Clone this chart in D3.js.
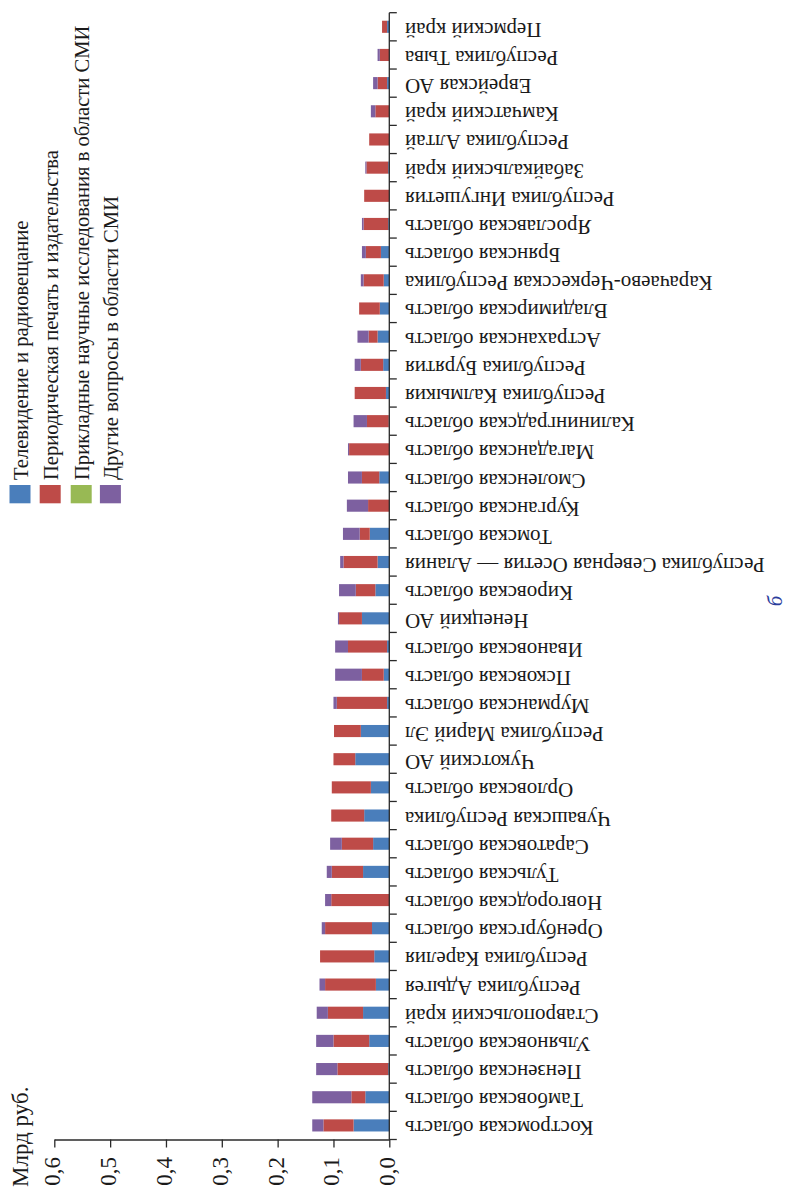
<!DOCTYPE html>
<html>
<head>
<meta charset="utf-8">
<script src="https://cdn.jsdelivr.net/npm/d3@7"></script>
<style>
  html, body { margin: 0; padding: 0; background: #fff; }
  svg { display: block; }
  text { font-family: "Liberation Serif", "Times New Roman", serif; fill: #1a1a1a; }
</style>
</head>
<body>
<svg id="chart" width="807" height="1192"></svg>
<script>
// ---- data (original order: first category sits at the bottom) ----
const categories = [
  "Костромская область", "Тамбовская область", "Пензенская область", "Ульяновская область",
  "Ставропольский край", "Республика Адыгея", "Республика Карелия", "Оренбургская область",
  "Новгородская область", "Тульская область", "Саратовская область", "Чувашская Республика",
  "Орловская область", "Чукотский АО", "Республика Марий Эл", "Мурманская область",
  "Псковская область", "Ивановская область", "Ненецкий АО", "Кировская область",
  "Республика Северная Осетия — Алания", "Томская область", "Курганская область", "Смоленская область",
  "Магаданская область", "Калининградская область", "Республика Калмыкия", "Республика Бурятия",
  "Астраханская область", "Владимирская область", "Карачаево-Черкесская Республика", "Брянская область",
  "Ярославская область", "Республика Ингушетия", "Забайкальский край", "Республика Алтай",
  "Камчатский край", "Еврейская АО", "Республика Тыва", "Пермский край"
];
const tvRadio = [
  0.064, 0.043, 0.002, 0.036, 0.047, 0.024, 0.027, 0.031, 0.000, 0.047,
  0.029, 0.045, 0.033, 0.061, 0.051, 0.004, 0.010, 0.004, 0.049, 0.025,
  0.021, 0.035, 0.000, 0.018, 0.000, 0.001, 0.006, 0.011, 0.021, 0.017,
  0.010, 0.015, 0.002, 0.000, 0.002, 0.000, 0.000, 0.004, 0.000, 0.004
];
const pressPublishing = [
  0.054, 0.025, 0.091, 0.064, 0.063, 0.091, 0.097, 0.084, 0.104, 0.056,
  0.056, 0.059, 0.070, 0.039, 0.048, 0.090, 0.039, 0.070, 0.041, 0.035,
  0.061, 0.018, 0.038, 0.031, 0.072, 0.039, 0.056, 0.040, 0.016, 0.037,
  0.036, 0.027, 0.044, 0.045, 0.039, 0.036, 0.025, 0.017, 0.017, 0.009
];
const appliedResearch = [
  0, 0, 0, 0, 0, 0, 0, 0, 0, 0,
  0, 0, 0, 0, 0, 0, 0, 0, 0, 0,
  0, 0, 0, 0, 0, 0, 0, 0, 0, 0,
  0, 0, 0, 0, 0, 0, 0, 0, 0, 0
];
const otherIssues = [
  0.020, 0.070, 0.038, 0.031, 0.020, 0.010, 0.000, 0.006, 0.011, 0.009,
  0.021, 0.000, 0.000, 0.000, 0.000, 0.006, 0.048, 0.023, 0.002, 0.030,
  0.006, 0.030, 0.038, 0.025, 0.002, 0.024, 0.000, 0.011, 0.020, 0.000,
  0.005, 0.007, 0.003, 0.000, 0.002, 0.000, 0.008, 0.008, 0.004, 0.000
];
const seriesKeys = ["tv", "press", "applied", "other"];
const seriesNames = [
  "Телевидение и радиовещание",
  "Периодическая печать и издательства",
  "Прикладные научные исследования в области СМИ",
  "Другие вопросы в области СМИ"
];
const seriesColors = ["#4a7ebb", "#be4b48", "#98b954", "#7d60a0"];
const valueTicks = [0, 0.1, 0.2, 0.3, 0.4, 0.5, 0.6];
const unitLabel = "Млрд руб.";
const panelLabel = "б";

// ---- build table ----
const table = categories.map((c, i) => ({
  cat: c, tv: tvRadio[i], press: pressPublishing[i], applied: appliedResearch[i], other: otherIssues[i]
}));
const stacked = d3.stack().keys(seriesKeys)(table);

const svg = d3.select("#chart");
svg.append("rect").attr("width", 807).attr("height", 1192).attr("fill", "#fff");

// geometry
const x0 = 389.3, x6 = 54.3, yTop = 12.7, yBot = 1139.5;
const x = d3.scaleLinear().domain([0, 0.6]).range([x0, x6]);
const y = d3.scaleBand().domain(categories).range([yBot, yTop]).paddingInner(0.57).paddingOuter(0.285);
const yIdx = d3.scaleLinear().domain([0, categories.length]).range([yBot, yTop]);

// bars
const g = svg.append("g");
g.selectAll("g.s").data(stacked).join("g")
  .attr("fill", (d, i) => seriesColors[i])
  .selectAll("rect").data(d => d.map(v => ({ v, cat: v.data.cat }))).join("rect")
  .attr("x", d => x(d.v[1]))
  .attr("width", d => Math.max(0, x(d.v[0]) - x(d.v[1])))
  .attr("y", d => y(d.cat))
  .attr("height", y.bandwidth());

const axisColor = "#2a2a2a";

// value axis (bottom)
const xAxis = d3.axisBottom(x).tickValues(valueTicks).tickSize(8).tickSizeOuter(0).tickFormat("");
const gx = svg.append("g").attr("transform", `translate(0,${yBot})`).call(xAxis);
gx.select(".domain").attr("stroke", axisColor).attr("stroke-width", 1.3);
gx.selectAll(".tick line").attr("stroke", axisColor).attr("stroke-width", 1.3);
svg.append("g").selectAll("text").data(valueTicks).join("text")
  .attr("transform", d => `translate(${x(d) + 6},1157) rotate(-90)`)
  .attr("text-anchor", "end")
  .attr("font-size", 23)
  .text(d => d3.format(".1f")(d).replace(".", ","));

// category axis (vertical line at 0 with boundary ticks to the right)
svg.append("line").attr("x1", x0).attr("x2", x0).attr("y1", yTop).attr("y2", yBot)
  .attr("stroke", axisColor).attr("stroke-width", 1.3);
svg.append("g").selectAll("line").data(d3.range(categories.length + 1)).join("line")
  .attr("x1", x0).attr("x2", x0 + 7.5)
  .attr("y1", d => yIdx(d)).attr("y2", d => yIdx(d))
  .attr("stroke", axisColor).attr("stroke-width", 1.3);

// category labels (upside down)
svg.append("g").selectAll("text").data(categories).join("text")
  .attr("transform", d => `translate(405,${y(d) + y.bandwidth() / 2 - 4}) rotate(180)`)
  .attr("text-anchor", "end")
  .attr("font-size", 21)
  .text(d => d);

// unit label
svg.append("text")
  .attr("transform", "translate(28,1187) rotate(-90)")
  .attr("text-anchor", "start")
  .attr("font-size", 23)
  .text(unitLabel);

// legend
const legendX = [20, 50.2, 81.2, 110.4];
const lg = svg.append("g");
lg.selectAll("rect").data(seriesNames).join("rect")
  .attr("x", (d, i) => legendX[i] - 10.5).attr("y", 485)
  .attr("width", 21).attr("height", 18.3)
  .attr("fill", (d, i) => seriesColors[i]);
lg.selectAll("text").data(seriesNames).join("text")
  .attr("transform", (d, i) => `translate(${legendX[i] + 7.5},480) rotate(-90)`)
  .attr("text-anchor", "start")
  .attr("font-size", 20.6)
  .text(d => d);

// panel label
svg.append("text")
  .attr("transform", "translate(782,601) rotate(-90)")
  .attr("text-anchor", "middle")
  .attr("font-size", 21)
  .attr("font-style", "italic")
  .style("fill", "#2b3d9c")
  .text(panelLabel);
</script>
</body>
</html>
